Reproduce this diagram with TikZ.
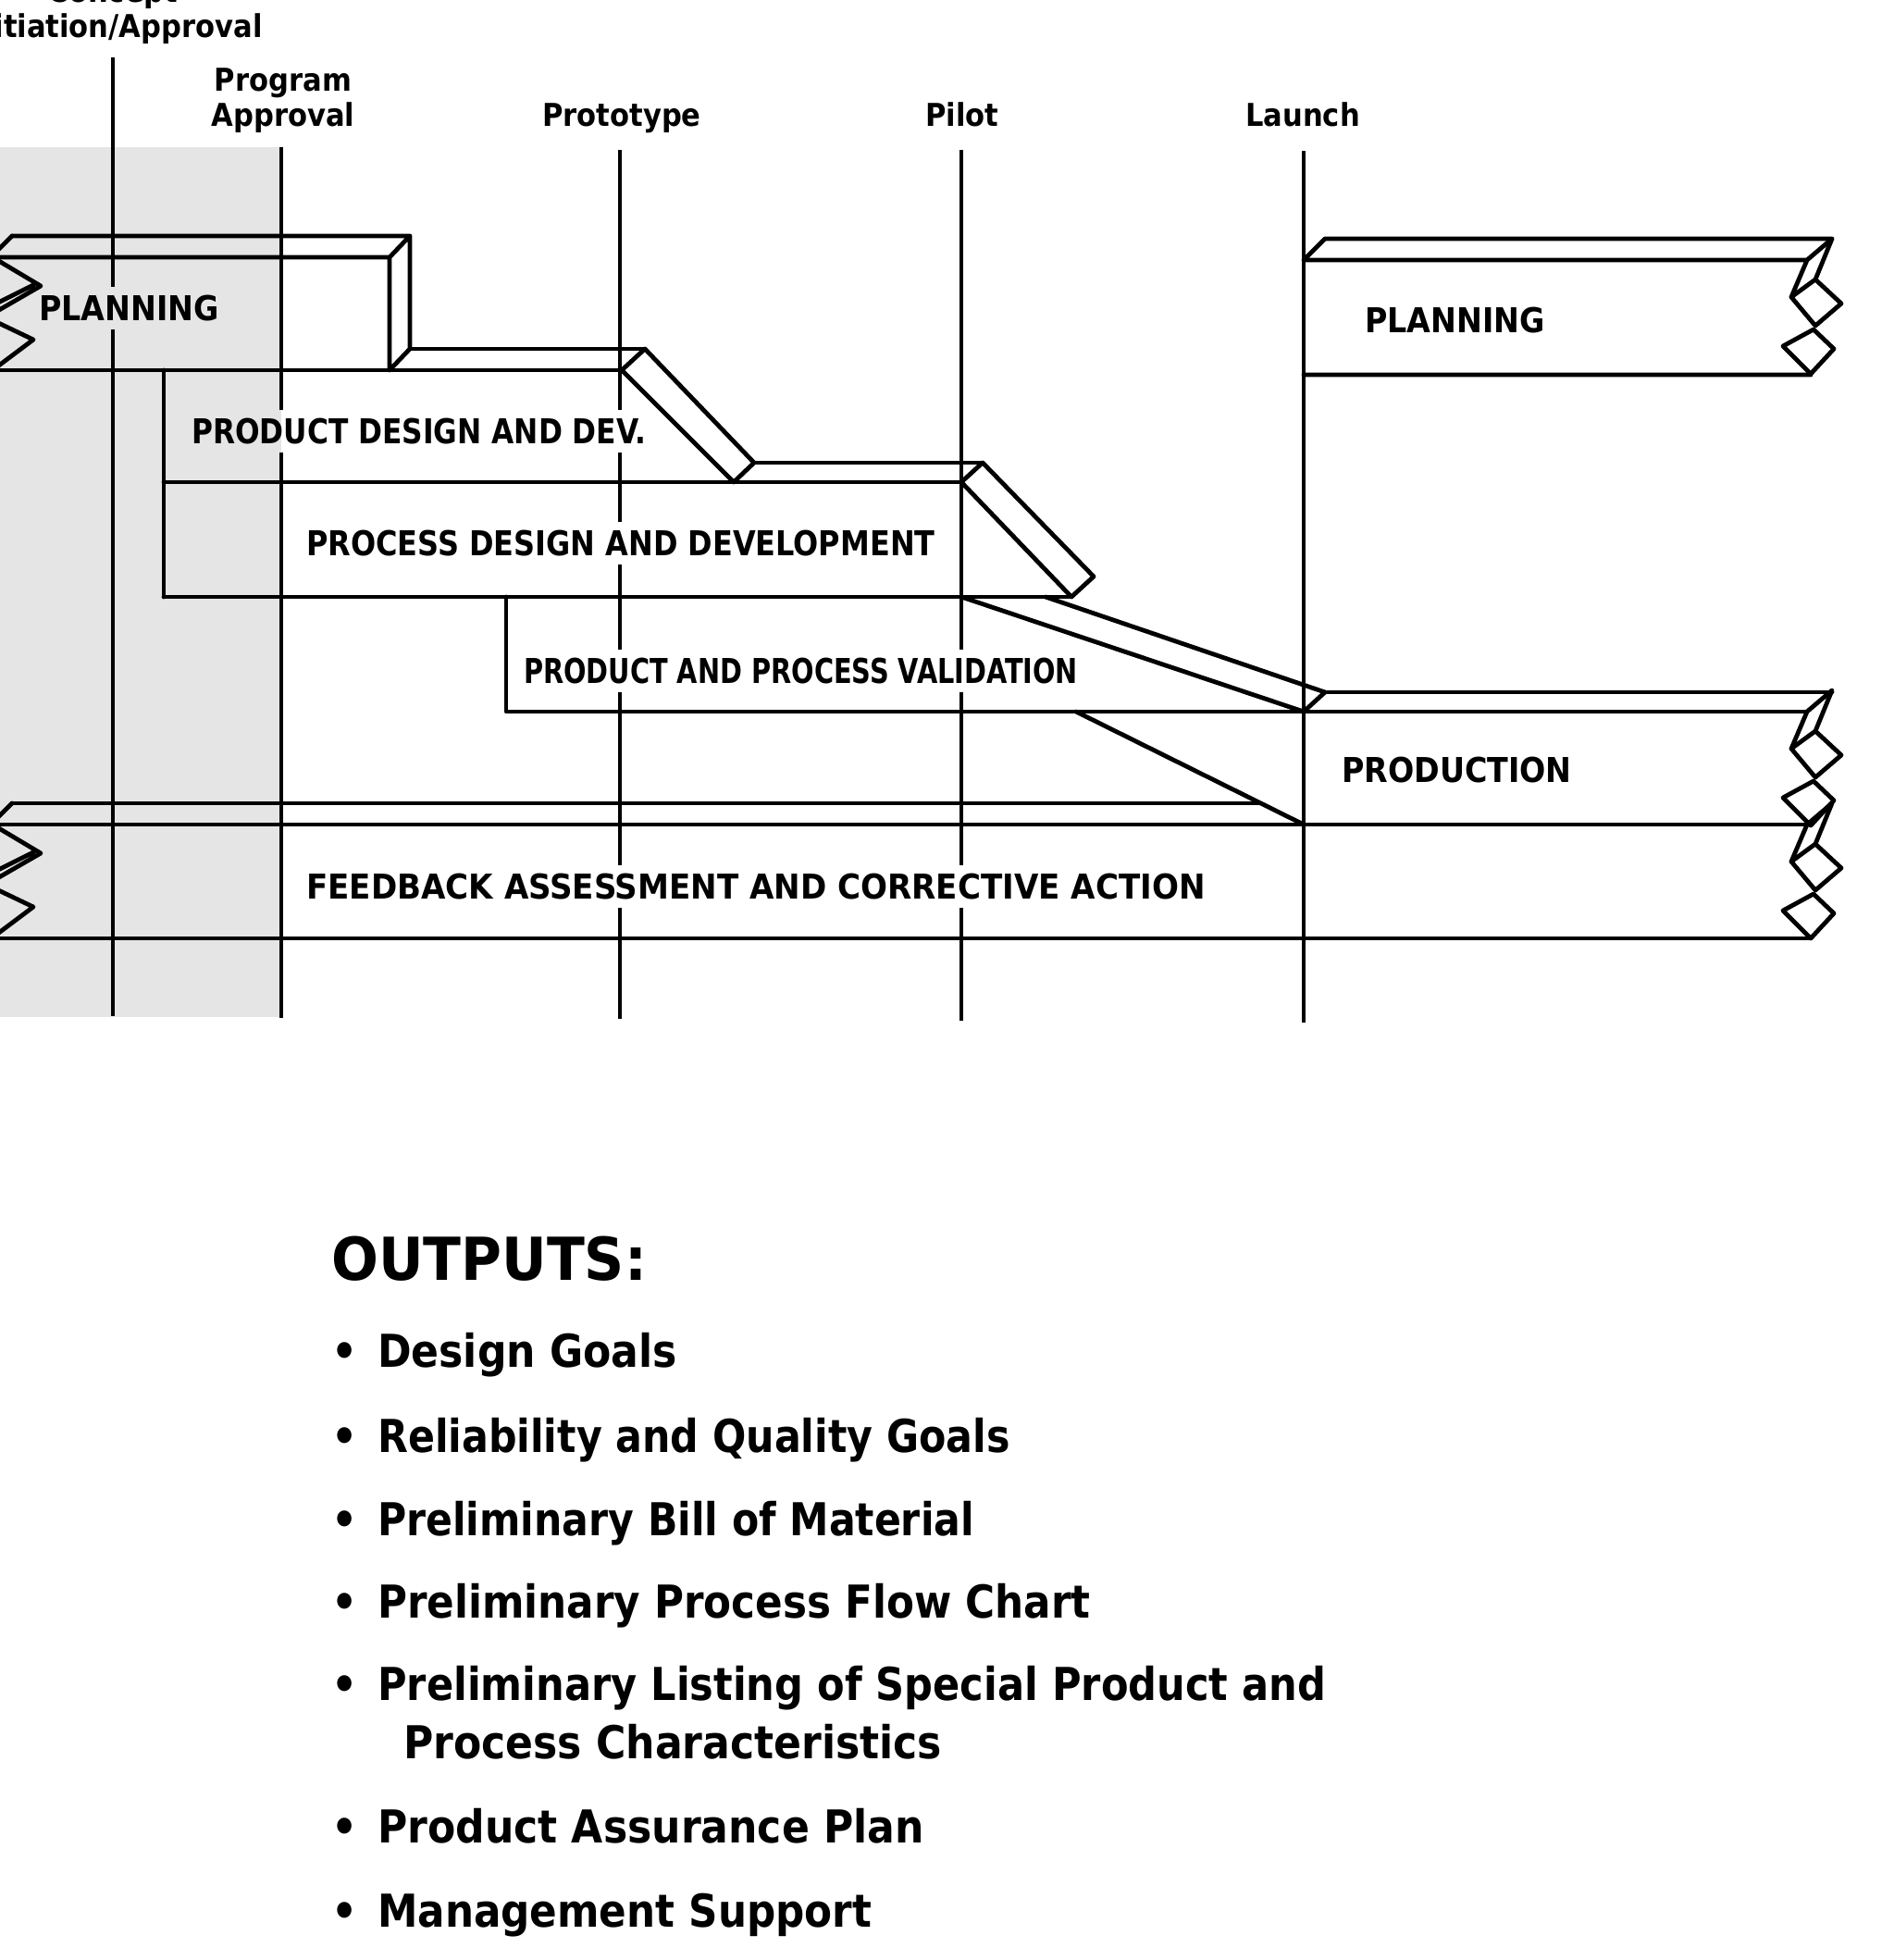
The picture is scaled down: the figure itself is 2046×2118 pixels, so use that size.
\documentclass[tikz,border=0pt]{standalone}
\usepackage{fontspec}
\setmainfont{DejaVu Sans Condensed}
\usetikzlibrary{positioning,calc}

\tikzset{
  band/.style={line width=4.8pt, line join=round, line cap=round},
  tline/.style={line width=4pt},
  lbl/.style={font=\bfseries\fontsize{37}{40}\selectfont, anchor=west,
    inner xsep=0pt, inner ysep=9pt, text height=27pt, text depth=0pt},
  hdr/.style={font=\bfseries\fontsize{34}{38}\selectfont, anchor=base, inner sep=0pt},
  ohead/.style={font=\bfseries\fontsize{64}{70}\selectfont, anchor=base west, inner sep=0pt},
  item/.style={font=\bfseries\fontsize{49}{56}\selectfont, anchor=base west, inner sep=0pt},
  rbreak/.pic={
    \draw[band] (0,0) -- (27,-23) -- (9,21) (0,0) -- (-17,40);
    \draw[band] (-17,40) -- (9,21) -- (37,47) -- (9,71) -- cycle;
    \draw[band] (7,75) -- (29,96) -- (4,123) -- (-26,93) -- cycle;
  },
  lbreak/.pic={
    \draw[band] (-10,0) -- (13,-23);
    \draw[band] (-8,0) -- (44,31) -- (-8,61) (36,30) -- (-8,52);
    \draw[band] (-8,68) -- (36,89) -- (-8,122);
  }
}

\begin{document}
\begin{tikzpicture}[x=1pt, y=-1pt]
  \useasboundingbox (0,0) rectangle (2046,2118);
  \fill[gray!20] (0,159) rectangle (304,1099);

  % milestones
  \foreach \nm/\x/\t/\b in {concept/122/62/1098, program/304/159/1100,
      proto/670/162/1101, pilot/1039/162/1103, launch/1409/163/1105}
  {
    \coordinate (\nm T) at (\x,\t);
    \coordinate (\nm B) at (\x,\b);
  }

  \node[hdr] (concept1) at (122,2) {Concept};
  \node[hdr] (concept2) at (122,40) {Initiation/Approval};
  \node[hdr] (program1) at (306,98) {Program};
  \node[hdr] (program2) at (306,136) {Approval};
  \node[hdr] (protoLbl) at (672,136) {Prototype};
  \node[hdr] (pilotLbl) at (1040,136) {Pilot};
  \node[hdr] (launchLbl) at (1408,136) {Launch};

  \node[lbl] (plan1) at (42,333) {PLANNING};
  \node[lbl] (pdd) at (207,466) {\scalebox{0.94}[1]{PRODUCT DESIGN AND DEV.}};
  \node[lbl] (prd) at (331,587) {\scalebox{0.96}[1]{PROCESS DESIGN AND DEVELOPMENT}};
  \node[lbl] (ppv) at (566,725) {\scalebox{0.865}[1]{PRODUCT AND PROCESS VALIDATION}};
  \node[lbl] (fac) at (331,958) {\scalebox{1.024}[1]{FEEDBACK ASSESSMENT AND CORRECTIVE ACTION}};
  \node[lbl] (plan2) at (1475,346) {PLANNING};
  \node[lbl] (prodn) at (1450,832) {PRODUCTION};

  \draw[tline] (conceptT) -- (conceptT |- plan1.north)
    (conceptT |- plan1.south) -- (conceptB);
  \draw[tline] (programT) -- (programT |- pdd.north)
    (programT |- pdd.south) -- (programB);
  \draw[tline] (protoT) -- (protoT |- pdd.north)
    (protoT |- pdd.south) -- (protoT |- prd.north)
    (protoT |- prd.south) -- (protoT |- ppv.north)
    (protoT |- ppv.south) -- (protoT |- fac.north)
    (protoT |- fac.south) -- (protoB);
  \draw[tline] (pilotT) -- (pilotT |- ppv.north)
    (pilotT |- ppv.south) -- (pilotT |- fac.north)
    (pilotT |- fac.south) -- (pilotB);
  \draw[tline] (launchT) -- (launchB);

  % planning and product design
  \pic at (0,278) {lbreak};
  \draw[band] (-10,278) -- (421,278) -- (421,400) (13,255) -- (443,255) -- (443,377)
    (421,278) -- (443,255) (421,400) -- (443,377);
  \draw[band] (-10,400) -- (672,400) (443,377) -- (697,377);
  \draw[band] (672,400) -- (697,377) -- (815,500) -- (793,521) -- cycle;
  \draw[band] (177,400) -- (177,645);

  % process design
  \draw[band] (177,521) -- (1039,521) (815,500) -- (1062,500);
  \draw[band] (1039,521) -- (1062,500) -- (1182,623) -- (1158,645) -- cycle;
  \draw[band] (177,645) -- (1158,645);

  % validation and production
  \draw[band] (547,645) -- (547,769) -- (1953,769);
  \draw[band] (1039,645) -- (1409,769) (1130,645) -- (1432,748) -- (1409,769);
  \draw[band] (1432,748) -- (1980,748);
  \pic at (1953,769) {rbreak};
  \draw[band] (1163,769) -- (1409,891);

  % feedback
  \pic at (0,891) {lbreak};
  \draw[band] (13,868) -- (1363,868) (-10,891) -- (1953,891) (-10,1014) -- (1957,1014);
  \pic at (1953,891) {rbreak};

  % planning after launch
  \draw[band] (1409,281) -- (1953,281) (1409,281) -- (1432,258) -- (1980,258)
    (1409,405) -- (1957,405);
  \pic at (1953,281) {rbreak};

  % outputs
  \node[ohead] (outs) at (358,1383) {\scalebox{1.04}[1]{OUTPUTS:}};
  \foreach \y/\s/\t [count=\i] in {1477/1/Design Goals,
      1569/0.969/Reliability and Quality Goals,
      1659/0.966/Preliminary Bill of Material,
      1748/0.99/Preliminary Process Flow Chart,
      1837/0.978/Preliminary Listing of Special Product and,
      1991/1/Product Assurance Plan,
      2082/0.99/Management Support}
  {
    \node[item] (bul\i) at (358,\y) {\textbullet};
    \node[item] (out\i) at (408,\y) {\scalebox{\s}[1]{\t}};
  }
  \node[item] (out5b) at (436,1900) {Process Characteristics};
\end{tikzpicture}
\end{document}
